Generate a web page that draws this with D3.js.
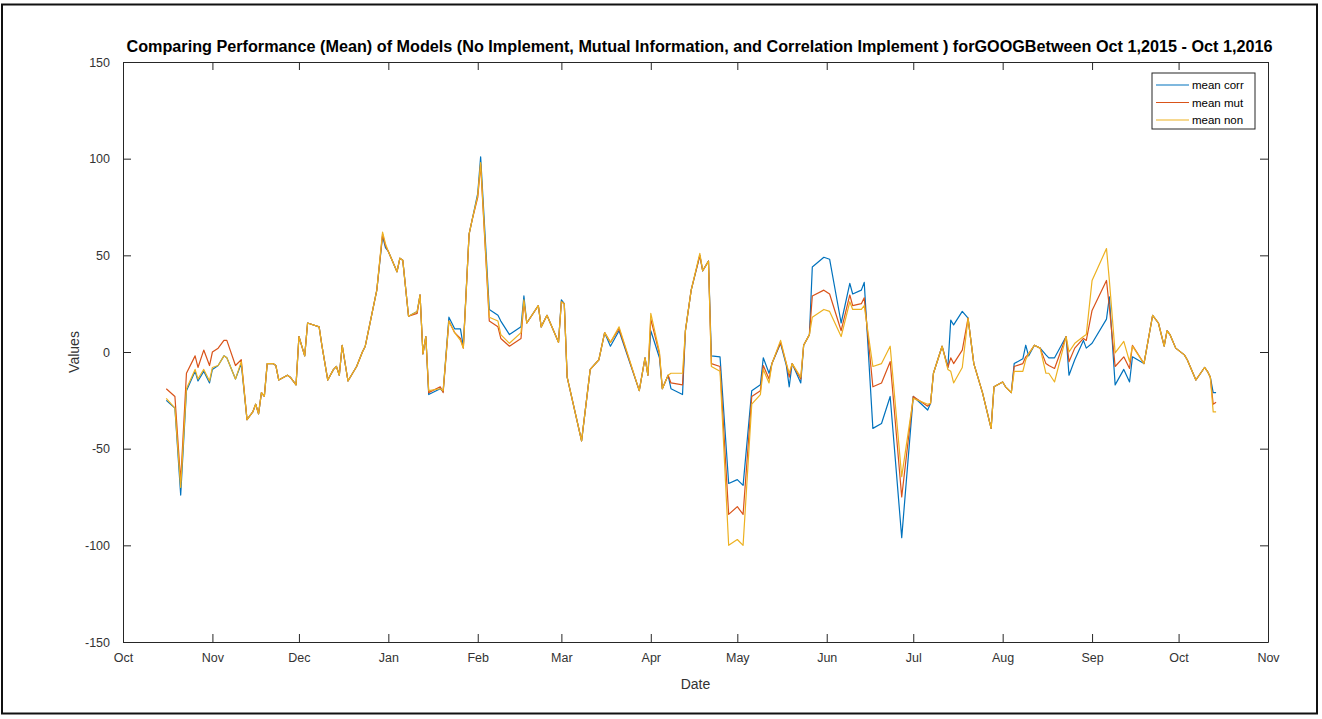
<!DOCTYPE html>
<html>
<head>
<meta charset="utf-8">
<script src="https://cdn.jsdelivr.net/npm/d3@7"></script>
<style>
  body { margin: 0; background: #fff; }
  svg { display: block; }
  text { font-family: "Liberation Sans", Arial, Helvetica, sans-serif; }
</style>
</head>
<body>
<svg id="chart" width="1322" height="719"></svg>
<script>
// Trading-day series: mean performance of the three model variants for GOOG
const dates = [
  "2015-10-16","2015-10-19","2015-10-21","2015-10-23","2015-10-26","2015-10-27","2015-10-29","2015-10-31",
  "2015-11-01","2015-11-03","2015-11-05","2015-11-06","2015-11-09","2015-11-11","2015-11-13","2015-11-15",
  "2015-11-16","2015-11-17","2015-11-18","2015-11-19","2015-11-20","2015-11-22","2015-11-23","2015-11-24",
  "2015-11-27","2015-11-28","2015-11-30","2015-12-01","2015-12-03","2015-12-04","2015-12-08","2015-12-09",
  "2015-12-11","2015-12-13","2015-12-14","2015-12-15","2015-12-16","2015-12-18","2015-12-21","2015-12-23",
  "2015-12-24","2015-12-28","2015-12-30","2015-12-31","2016-01-01","2016-01-04","2016-01-05","2016-01-06",
  "2016-01-08","2016-01-11","2016-01-12","2016-01-13","2016-01-14","2016-01-15","2016-01-19","2016-01-20",
  "2016-01-22","2016-01-24","2016-01-26","2016-01-27","2016-01-29","2016-01-30","2016-02-01","2016-02-02",
  "2016-02-05","2016-02-08","2016-02-09","2016-02-12","2016-02-16","2016-02-17","2016-02-18","2016-02-22",
  "2016-02-23","2016-02-25","2016-02-29","2016-03-01","2016-03-02","2016-03-03","2016-03-08","2016-03-11",
  "2016-03-14","2016-03-16","2016-03-18","2016-03-21","2016-03-28","2016-03-30","2016-03-31","2016-04-01",
  "2016-04-04","2016-04-05","2016-04-07","2016-04-08","2016-04-12","2016-04-13","2016-04-15","2016-04-18",
  "2016-04-19","2016-04-21","2016-04-22","2016-04-25","2016-04-28","2016-05-01","2016-05-03","2016-05-06",
  "2016-05-09","2016-05-10","2016-05-12","2016-05-13","2016-05-16","2016-05-18","2016-05-19","2016-05-20",
  "2016-05-23","2016-05-24","2016-05-26","2016-05-27","2016-05-31","2016-06-02","2016-06-06","2016-06-09",
  "2016-06-10","2016-06-13","2016-06-14","2016-06-17","2016-06-20","2016-06-23","2016-06-27","2016-07-01",
  "2016-07-06","2016-07-07","2016-07-08","2016-07-11","2016-07-13","2016-07-14","2016-07-15","2016-07-18",
  "2016-07-20","2016-07-22","2016-07-25","2016-07-28","2016-07-29","2016-08-01","2016-08-02","2016-08-04",
  "2016-08-05","2016-08-08","2016-08-09","2016-08-10","2016-08-12","2016-08-14","2016-08-16","2016-08-17",
  "2016-08-19","2016-08-23","2016-08-24","2016-08-26","2016-08-29","2016-08-30","2016-09-01","2016-09-06",
  "2016-09-07","2016-09-09","2016-09-12","2016-09-14","2016-09-15","2016-09-19","2016-09-22","2016-09-24",
  "2016-09-26","2016-09-27","2016-09-28","2016-09-30","2016-10-03","2016-10-04","2016-10-07","2016-10-10",
  "2016-10-11","2016-10-12","2016-10-13","2016-10-14"
];

const meanCorr = [
  -25,-29,-74,-20,-10,-15,-10,-16,
  -9,-7,-2,-3,-14,-6,-35,-31,
  -27,-32,-21,-23,-6,-6,-7,-14.5,
  -12,-13,-17,8,-2,15,13,3,
  -14.5,-9,-7.5,-12,3.5,-15,-7.5,0,
  3,32,60,54,52,41.5,48.5,47.5,
  18.5,21,29.5,-1,8,-22,-19,-20.5,
  18,12,12,3,61,68,82,101,
  22,19,16,9,13,29,15,24,
  13,19,5,27,25,-13,-46,-9,
  -4,10,3,11,-20,-3,-12,11,
  -3,-19,-12,-19,-22,11,32,50,
  42,47,-2,-2.5,-68,-66,-69,-20,
  -17,-3,-11,-6,4.5,-7,-18,-6,
  -16,3.5,9,44,49,48,15,35.5,
  30,32,36,-39.5,-37,-23,-96,-23,
  -30,-26.5,-11,3,-8,16.5,14,21,
  17.5,-6,-21,-39.5,-18,-15.5,-18,-21,
  -6,-3.5,3.5,-2,3.5,2,-1.5,-3,
  -3,8,-12,-4,6,2,4.5,17,
  28.5,-17,-9,-15.5,-2.5,-6,19,15,
  3,11,9,2,-1.5,-4,-14.5,-8,
  -10,-13,-21,-21
];

const meanMut = [
  -19,-23,-67,-11,-2,-8,1,-7,
  0,2,6,6,-7,-4,-35,-31,
  -27,-32,-21,-23,-6,-6,-7,-14.5,
  -12,-13,-17,8,-2,15,13,3,
  -14.5,-9,-7.5,-12,3.5,-15,-7.5,0,
  3,32,61,55,52,41.5,48.5,47.5,
  18.5,20,29.5,-1,8,-21,-18,-21,
  16,10,7,2,61,68,80,97,
  16,13,7,3,7,26,15,24,
  13,19,5,26,25,-13,-46,-9,
  -4,10,5,12,-20,-3,-12,17,
  -1,-19,-12,-16,-17,11,32,50,
  42,47,-6,-7.5,-84,-80,-84,-23,
  -20,-7,-14,-6,5,-6,-13,-6,
  -14,3.5,9,29,32,30,11,29.5,
  24,25,28,-18,-16,-5,-75,-23,
  -28,-26.5,-11,3,-8,-3,-6,1,
  17.5,-6,-21,-39.5,-18,-15.5,-18,-21,
  -7.5,-6,-2.5,-1,3.5,2,-6,-7,
  -8.5,8,-5,2,7,6,21.5,37,
  23,-7.5,-2.5,-8.5,3.5,-6,19,15,
  3,11,9,2,-1.5,-4,-14.5,-8,
  -10,-13,-27,-26
];

const meanNon = [
  -24,-29,-70,-19,-9,-14,-9,-15,
  -8,-7,-2,-3,-14,-5,-35,-31,
  -27,-32,-21,-23,-6,-6,-7,-14.5,
  -12,-13,-17,8,-2,15,13,3,
  -14.5,-9,-7.5,-12,3.5,-15,-7.5,0,
  3,32,62,56,52,41.5,48.5,47.5,
  18.5,21,29.5,-1,8,-20,-19,-20,
  16,10,6,2,61,68,81,98,
  18,16,9,4.5,10,27,15,24,
  13,19,5,26,25,-13,-46,-9,
  -4,10,5,13,-20,-3,-12,20,
  0,-19,-12,-11,-11,11,32,51,
  42,47,-7.5,-10,-100,-97,-100,-27,
  -22,-9,-16,-6,6,-6,-11,-6,
  -13,3.5,9,18,22,21,8,26,
  22,22,24,-7.5,-6,3,-64.5,-24,
  -27,-26.5,-11,3,-9,-10,-16,-8,
  17.5,-6,-21,-39.5,-18,-15.5,-18,-21,
  -10,-10,-4,-1,3.5,2,-11,-11,
  -15.5,8,0,4.5,8,9,37,53.5,
  37,-0.5,5.5,-5,3,-6,19,15,
  3,11,9,2,-1.5,-4,-14.5,-8,
  -10,-13,-31,-31
];

const seriesNames = ["mean corr", "mean mut", "mean non"];
const seriesColors = ["#0072BD", "#D95319", "#EDB120"];
const yTickValues = [-150, -100, -50, 0, 50, 100, 150];
const xDomain = ["2015-10-01", "2016-11-01"];
const titleText = "Comparing Performance (Mean) of Models (No Implement, Mutual Information, and Correlation Implement ) forGOOGBetween Oct 1,2015 - Oct 1,2016";
const xLabelText = "Date";
const yLabelText = "Values";

const W = 1322, H = 719;
const plot = { left: 123, right: 1268, top: 62, bottom: 642 };
const axisColor = "#262626";
const labelColor = "#333333";

const parseDate = d3.timeParse("%Y-%m-%d");
const svg = d3.select("#chart");

// Figure background and outer frame
svg.append("rect").attr("x", 0).attr("y", 0).attr("width", W).attr("height", H).attr("fill", "#fff");
svg.append("rect").attr("x", 2).attr("y", 4.5).attr("width", 1315).attr("height", 709)
  .attr("fill", "none").attr("stroke", "#111").attr("stroke-width", 2);

const x = d3.scaleTime().domain(xDomain.map(parseDate)).range([plot.left, plot.right]);
const y = d3.scaleLinear().domain([-150, 150]).range([plot.bottom, plot.top]);

// Axes: labelled bottom/left, tick-only top/right, ticks pointing inward
const monthTicks = d3.timeMonth.every(1);
const tickLen = 8;

const gx = svg.append("g").attr("transform", `translate(0,${plot.bottom})`)
  .call(d3.axisBottom(x).ticks(monthTicks).tickFormat(d3.timeFormat("%b"))
    .tickSizeInner(-tickLen).tickSizeOuter(0).tickPadding(11));
const gxTop = svg.append("g").attr("transform", `translate(0,${plot.top})`)
  .call(d3.axisTop(x).ticks(monthTicks).tickFormat("")
    .tickSizeInner(-tickLen).tickSizeOuter(0));
const gy = svg.append("g").attr("transform", `translate(${plot.left},0)`)
  .call(d3.axisLeft(y).tickValues(yTickValues).tickFormat(d => String(d))
    .tickSizeInner(-tickLen).tickSizeOuter(0).tickPadding(13));
const gyRight = svg.append("g").attr("transform", `translate(${plot.right},0)`)
  .call(d3.axisRight(y).tickValues(yTickValues).tickFormat("")
    .tickSizeInner(-tickLen).tickSizeOuter(0));

[gx, gxTop, gy, gyRight].forEach(g => {
  g.select(".domain").attr("stroke", axisColor).attr("stroke-width", 1);
  g.selectAll(".tick line").attr("stroke", axisColor).attr("stroke-width", 1);
  g.selectAll(".tick text").attr("fill", labelColor).style("font-size", "12.5px");
});

// Series lines
const rows = dates.map((d, i) => ({ date: parseDate(d), v: [meanCorr[i], meanMut[i], meanNon[i]] }));
const plotG = svg.append("g");
seriesNames.forEach((name, k) => {
  const line = d3.line().x(r => x(r.date)).y(r => y(r.v[k]));
  plotG.append("path").datum(rows)
    .attr("fill", "none")
    .attr("stroke", seriesColors[k])
    .attr("stroke-width", 1.2)
    .attr("stroke-linejoin", "round")
    .attr("d", line);
});

// Title, fitted to the width of the axes box
const title = svg.append("text")
  .attr("x", (plot.left + plot.right) / 2 + 4).attr("y", 52)
  .attr("text-anchor", "middle")
  .attr("fill", "#000")
  .style("font-weight", "bold")
  .style("font-size", "14px")
  .text(titleText);
const naturalW = title.node().getComputedTextLength();
const targetW = 1147;
title.style("font-size", (14 * targetW / naturalW).toFixed(2) + "px");

// Axis labels
svg.append("text").attr("x", (plot.left + plot.right) / 2).attr("y", 689)
  .attr("text-anchor", "middle").attr("fill", labelColor).style("font-size", "14px")
  .text(xLabelText);
svg.append("text").attr("transform", `translate(79,${(plot.top + plot.bottom) / 2}) rotate(-90)`)
  .attr("text-anchor", "middle").attr("fill", labelColor).style("font-size", "14px")
  .text(yLabelText);

// Legend
const legend = { x: 1152, y: 73, w: 103, h: 56 };
svg.append("rect").attr("x", legend.x).attr("y", legend.y).attr("width", legend.w).attr("height", legend.h)
  .attr("fill", "#fff").attr("stroke", axisColor).attr("stroke-width", 1);
seriesNames.forEach((name, k) => {
  const cy = legend.y + 12 + k * 17.5;
  svg.append("line").attr("x1", legend.x + 4).attr("x2", legend.x + 37)
    .attr("y1", cy).attr("y2", cy).attr("stroke", seriesColors[k]).attr("stroke-width", 1.2);
  svg.append("text").attr("x", legend.x + 40).attr("y", cy).attr("dy", "0.35em")
    .attr("fill", "#000").style("font-size", "11.5px").text(name);
});
</script>
</body>
</html>
